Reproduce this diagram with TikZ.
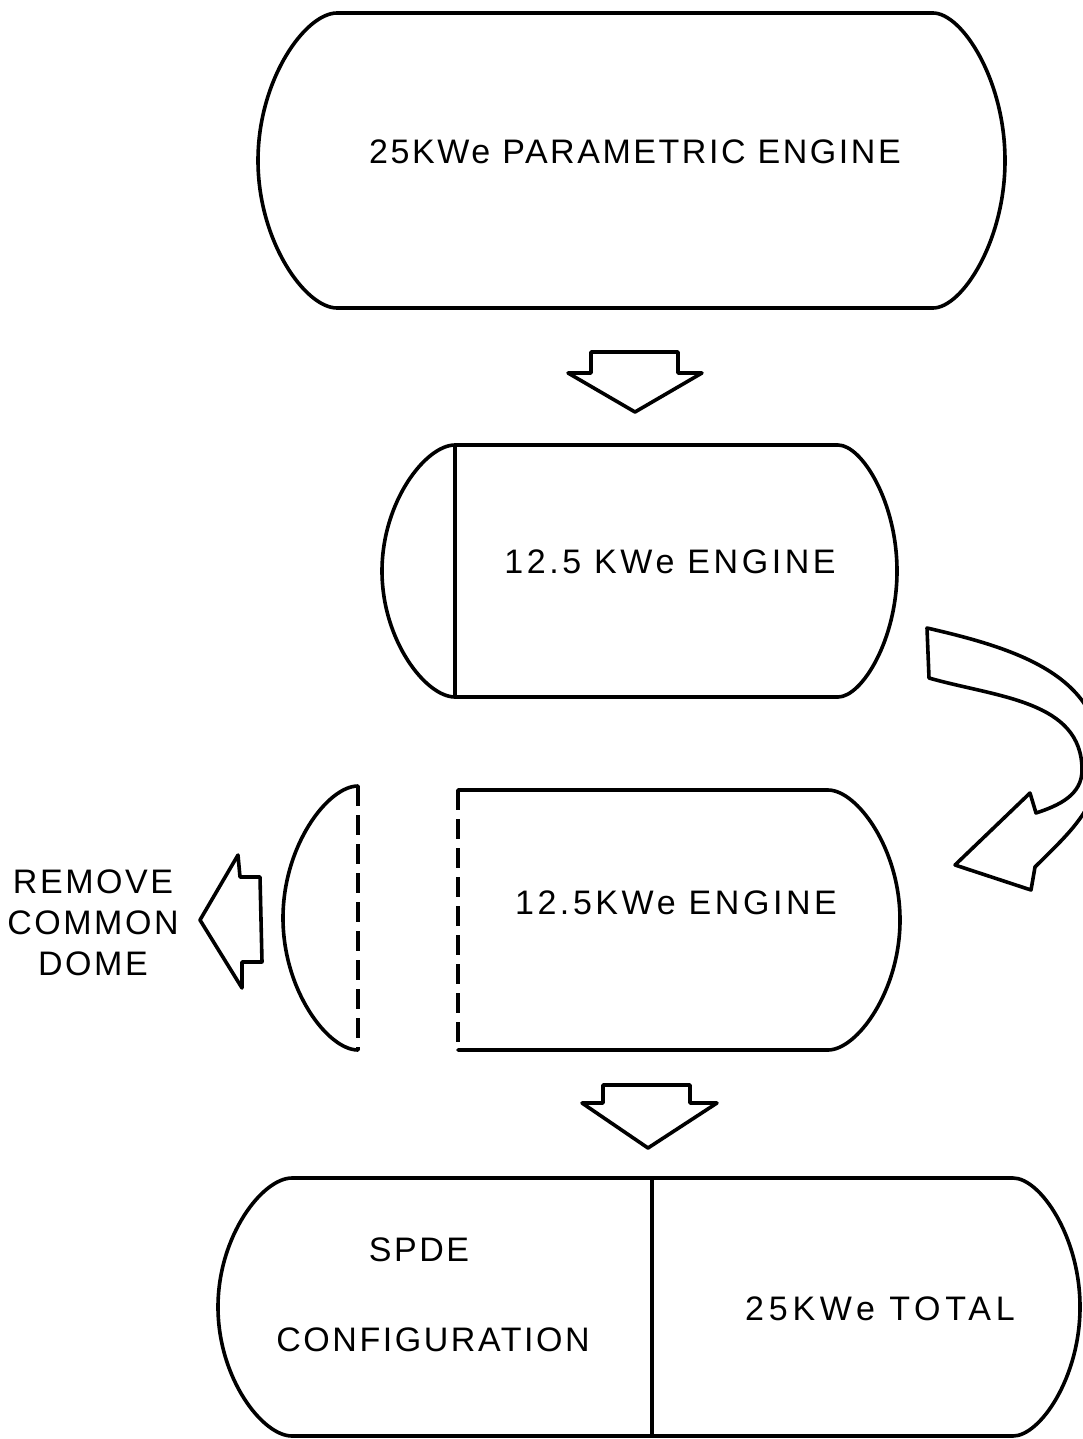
\documentclass[tikz,border=0pt]{standalone}
\usepackage{fontspec}
\setmainfont{Liberation Sans}
\newfontfamily\lettering{Liberation Sans}[LetterSpace=7.5]
\newfontfamily\wideletter{Liberation Sans}[LetterSpace=10.5]
\newfontfamily\widerletter{Liberation Sans}[LetterSpace=14.0]
\begin{document}
\begin{tikzpicture}[x=1pt,y=-1pt]
\tikzset{
  outline/.style={line width=3.6pt, line join=round, line cap=round},
  broken/.style={line width=3.6pt, dash pattern=on 20pt off 9pt},
  lettertext/.style={inner sep=0pt, align=center,
    font=\lettering\fontsize{34}{41}\selectfont},
  widetext/.style={lettertext, font=\wideletter\fontsize{34}{41}\selectfont},
  widertext/.style={lettertext, font=\widerletter\fontsize{34}{41}\selectfont},
  blockarrow/.style={outline, fill=white},
}
\useasboundingbox (0,0) rectangle (1083,1439);

% parametric engine
\draw[outline] (337,13) -- (933,13)
  .. controls +(28.8,0) and +(0,-81) .. (1005,160.5)
  .. controls +(0,81) and +(28.8,0) .. (933,308)
  -- (337,308)
  .. controls +(-31.6,0) and +(0,81) .. (258,160.5)
  .. controls +(0,-81) and +(-31.6,0) .. (337,13) -- cycle;
\node[lettertext] (param) at (635,152) {25KWe PARAMETRIC ENGINE};

% first block arrow
\draw[blockarrow] (591,352) -- (678,352) -- (678,373) -- (702,373)
  -- (635,412) -- (568,373) -- (591,373) -- cycle;

% half engine with its common dome
\draw[outline] (455,445) -- (838,445)
  .. controls +(23.6,0) and +(0,-69.3) .. (897,571)
  .. controls +(0,69.3) and +(23.6,0) .. (838,697)
  -- (455,697) -- cycle;
\draw[outline] (455,445)
  .. controls +(-29.2,0) and +(0,-69.3) .. (382,571)
  .. controls +(0,69.3) and +(-29.2,0) .. (455,697);
\node[widetext] (halfa) at (670,562) {12.5 KWe ENGINE};

% curved block arrow
\draw[blockarrow] (927,628)
  to[out=-13,in=90] (1100,757) to[out=-90,in=45] (1035,867)
  -- (1031,890) -- (955,865) -- (1030,793) -- (1036,813)
  to[out=18,in=-90] (1082,770) to[out=90,in=-16] (929,678)
  -- cycle;

% half engine with the dome removed
\draw[outline] (458,790) -- (828,790)
  .. controls +(28.8,0) and +(0,-71.5) .. (900,920)
  .. controls +(0,71.5) and +(28.8,0) .. (828,1050)
  -- (458,1050);
\draw[broken] (458,790) -- (458,1050);
\node[widetext] (halfb) at (676,903) {12.5KWe ENGINE};

% detached dome
\draw[outline] (358,786)
  .. controls +(-30,0) and +(0,-72.6) .. (283,918)
  .. controls +(0,72.6) and +(-30,0) .. (358,1050);
\draw[broken] (358,786) -- (358,1050);

% left block arrow and its note
\draw[blockarrow] (200,920) -- (238,855) -- (240,877) -- (260,877)
  -- (262,962) -- (242,962) -- (242,988) -- cycle;
\node[lettertext] (remove) at (93,923) {REMOVE\\COMMON\\DOME};

% second block arrow
\draw[blockarrow] (603,1085) -- (690,1085) -- (690,1103) -- (717,1103)
  -- (648,1148) -- (582,1103) -- (603,1103) -- cycle;

% SPDE configuration
\draw[outline] (292,1178) -- (1013,1178)
  .. controls +(26.8,0) and +(0,-71) .. (1080,1307)
  .. controls +(0,71) and +(26.8,0) .. (1013,1436)
  -- (292,1436)
  .. controls +(-29.6,0) and +(0,71) .. (218,1307)
  .. controls +(0,-71) and +(-29.6,0) .. (292,1178) -- cycle;
\draw[outline] (652,1178) -- (652,1436);
\node[lettertext] (spde) at (419,1250) {SPDE};
\node[lettertext] (config) at (433,1340) {CONFIGURATION};
\node[widertext] (total) at (880,1309) {25KWe TOTAL};
\end{tikzpicture}
\end{document}
